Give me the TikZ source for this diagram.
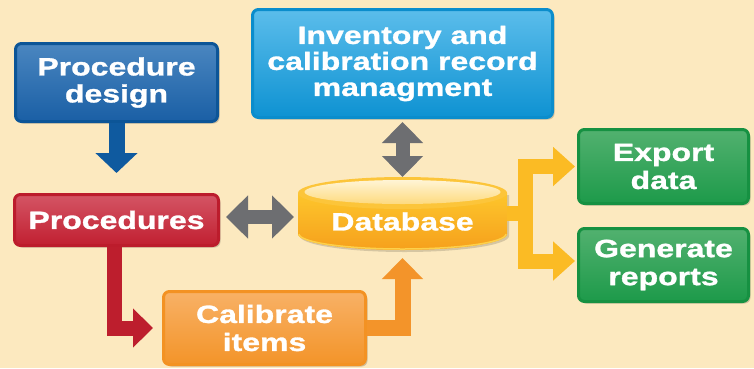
\documentclass[tikz,border=0pt]{standalone}
\usepackage{fontspec}
\newfontfamily\boxfont{Liberation Sans}[FakeStretch=1.28,FakeBold=1.2]
\usetikzlibrary{arrows.meta,calc,shadows}
\definecolor{bg}{HTML}{FCE9BF}
\definecolor{pdB}{HTML}{0C5597}\definecolor{pdT}{HTML}{4A86C0}\definecolor{pdM}{HTML}{1A5FA5}
\definecolor{invB}{HTML}{0B8DCC}\definecolor{invT}{HTML}{5BBDEB}\definecolor{invM}{HTML}{0E92D2}
\definecolor{redB}{HTML}{BC1C2C}\definecolor{redT}{HTML}{D45565}\definecolor{redM}{HTML}{C11F30}
\definecolor{orB}{HTML}{F39223}\definecolor{orT}{HTML}{F8B166}\definecolor{orM}{HTML}{F39429}
\definecolor{grB}{HTML}{169142}\definecolor{grT}{HTML}{52B16F}\definecolor{grM}{HTML}{1D9A4A}
\definecolor{grayA}{HTML}{6D6E71}
\definecolor{blueA}{HTML}{0F5A9F}
\definecolor{redA}{HTML}{BD1E2D}
\definecolor{orA}{HTML}{F3942A}
\definecolor{yelA}{HTML}{FBBB24}
\definecolor{dbT}{HTML}{FDC62C}\definecolor{dbM}{HTML}{F6A01C}
\definecolor{dbRim}{HTML}{FCC53A}\definecolor{dbInT}{HTML}{FFF4D5}\definecolor{dbInM}{HTML}{FDDA7E}
\definecolor{dbLow}{HTML}{FDD04A}
\begin{document}
\begin{tikzpicture}[x=1pt,y=-1pt,
  box/.style={rounded corners=6pt, line width=3pt, align=center, text=white,
    inner sep=0pt, outer sep=1.5pt,
    font={\fontsize{25pt}{27pt}\boxfont\bfseries},
    drop shadow={shadow xshift=2pt, shadow yshift=-2pt, opacity=0.18, fill=black}},
  blk/.style={line width=#1, line join=miter},
  tipA/.style 2 args={-{Triangle[width=#1,length=#2]}},
  tipB/.style 2 args={{Triangle[width=#1,length=#2]}-{Triangle[width=#1,length=#2]}}
]
\fill[bg] (0,0) rectangle (754,368);
\useasboundingbox (0,0) rectangle (754,368);

% boxes
\node[box, draw=pdB, top color=pdT, bottom color=pdM, minimum width=202pt, minimum height=78pt] (pd) at (116.5,82.5) {Procedure\\design};
\node[box, draw=invB, top color=invT, bottom color=invM, minimum width=300pt, minimum height=108pt,
  font={\fontsize{25pt}{26pt}\boxfont\bfseries}] (inv) at (402.5,63.5) {Inventory and\\calibration record\\managment};
\node[box, draw=redB, top color=redT, bottom color=redM, minimum width=204pt, minimum height=51pt] (proc) at (116.5,220) {Procedures};
\node[box, draw=orB, top color=orT, bottom color=orM, minimum width=202pt, minimum height=73pt,
  font={\fontsize{25pt}{28pt}\boxfont\bfseries}] (cal) at (264.5,328) {Calibrate\\items};
\node[box, draw=grB, top color=grT, bottom color=grM, minimum width=170pt, minimum height=74pt,
  font={\fontsize{25pt}{28pt}\boxfont\bfseries}] (exp) at (663.5,166.5) {Export\\data};
\node[box, draw=grB, top color=grT, bottom color=grM, minimum width=170pt, minimum height=73pt,
  font={\fontsize{25pt}{28pt}\boxfont\bfseries}] (gen) at (663.5,265) {Generate\\reports};

% database cylinder
\node[minimum width=209pt, minimum height=73pt, inner sep=0pt, outer sep=0pt] (db) at (402.5,213.5) {};
\fill[black, opacity=0.15] (300,195) -- (300,236) arc[start angle=180,end angle=360,x radius=104.5pt,y radius=16pt] -- (509,195) -- cycle;
\shade[top color=dbT, bottom color=dbM] (298,193) -- (298,234) arc[start angle=180,end angle=360,x radius=104.5pt,y radius=16pt] -- (507,193) -- cycle;
\draw[dbLow, line width=1.5pt] (299,234) arc[start angle=180,end angle=360,x radius=103.5pt,y radius=15pt];
\fill[dbRim] (402.5,193) ellipse[x radius=104.5pt, y radius=16pt];
\shade[top color=dbInT, bottom color=dbInM] (402.5,192) ellipse[x radius=98pt, y radius=12pt];
\node[text=white, font={\fontsize{25pt}{27pt}\boxfont\bfseries}, inner sep=0pt] (dbtext) at ($(db.center)+(0,8)$) {Database};

% connectors
\draw[blueA, blk=16pt, tipA={41pt}{20pt}, shorten >=20pt] (pd.south) -- (proc.north);
\draw[grayA, blk=14pt, tipB={42pt}{22pt}, shorten <=6pt, shorten >=4pt]
  ($(proc.east)+(0,-3)$) -- ($(proc.east -| db.west)+(0,-3)$);
\draw[grayA, blk=14pt, tipB={40pt}{21pt}, shorten <=3pt] (inv.south) -- (db.north);
\draw[redA, blk=15pt, tipA={38pt}{20pt}, shorten >=9pt] ($(proc.south)+(-2.5,0)$) |- (cal.west);
\draw[orA, blk=16pt, tipA={40pt}{21pt}, shorten >=8pt] (cal.east) -| (db.south);
\draw[yelA, blk=15pt, tipA={38pt}{22pt}, shorten >=2pt] (db.east) -- ++(18,0) |- (exp.west);
\draw[yelA, blk=15pt, tipA={38pt}{22pt}, shorten >=2pt] (db.east) -- ++(18,0) |- ($(gen.west)+(0,-4)$);
\end{tikzpicture}
\end{document}
